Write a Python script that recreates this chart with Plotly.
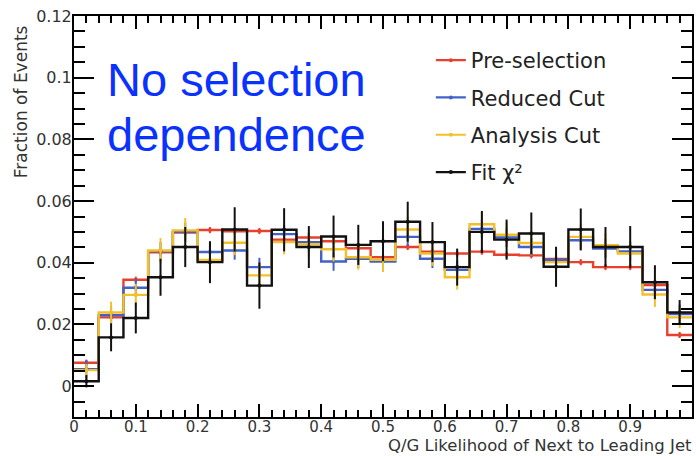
import numpy as np
import plotly.graph_objects as go

edges = [round(0.04 * i, 2) for i in range(26)]
centers = [round(0.02 + 0.04 * i, 2) for i in range(25)]

pre_sel = [0.0076, 0.0223, 0.0345, 0.0434, 0.0498, 0.0506, 0.0502, 0.0503, 0.0475, 0.0482,
           0.0470, 0.0447, 0.0418, 0.0451, 0.0436, 0.0430, 0.0436, 0.0426, 0.0424, 0.0412,
           0.0402, 0.0386, 0.0386, 0.0328, 0.0166]
reduced = [0.0055, 0.0230, 0.0319, 0.0437, 0.0500, 0.0435, 0.0440, 0.0386, 0.0493, 0.0467,
           0.0404, 0.0413, 0.0404, 0.0484, 0.0413, 0.0377, 0.0510, 0.0482, 0.0451, 0.0410,
           0.0473, 0.0446, 0.0437, 0.0312, 0.0234]
analysis = [0.0052, 0.0239, 0.0296, 0.0440, 0.0505, 0.0409, 0.0465, 0.0359, 0.0467, 0.0460,
            0.0444, 0.0418, 0.0410, 0.0508, 0.0430, 0.0353, 0.0525, 0.0491, 0.0464, 0.0402,
            0.0484, 0.0457, 0.0430, 0.0297, 0.0223]
fit_chi2 = [0.0016, 0.0158, 0.0221, 0.0353, 0.0451, 0.0402, 0.0508, 0.0326, 0.0507, 0.0451,
            0.0485, 0.0458, 0.0470, 0.0533, 0.0467, 0.0386, 0.0500, 0.0475, 0.0495, 0.0387,
            0.0508, 0.0451, 0.0451, 0.0337, 0.0239]

pre_err = [0.001] * 25
reduced_err = [0.003] * 25
analysis_err = [0.002, 0.0035, 0.0035, 0.004, 0.004, 0.004, 0.004, 0.004, 0.004, 0.004,
                0.004, 0.004, 0.004, 0.004, 0.004, 0.004, 0.004, 0.004, 0.004, 0.004,
                0.004, 0.004, 0.004, 0.004, 0.0035]
fit_err = [0.002, 0.0045, 0.005, 0.006, 0.0065, 0.0068, 0.0072, 0.0075, 0.007, 0.0068,
           0.0068, 0.0065, 0.0065, 0.0065, 0.0065, 0.006, 0.0068, 0.0065, 0.0068, 0.0065,
           0.0068, 0.0065, 0.0068, 0.0055, 0.004]

series = [
    ("Pre-selection", pre_sel, pre_err, "#e8402f"),
    ("Reduced Cut", reduced, reduced_err, "#4262c9"),
    ("Analysis Cut", analysis, analysis_err, "#f2c12a"),
    ("Fit \u03c7\u00b2", fit_chi2, fit_err, "#111111"),
]

fig = go.Figure()
for i, (name, vals, errs, col) in enumerate(series):
    fig.add_trace(go.Scatter(
        x=edges, y=list(vals) + [vals[-1]], mode="lines", line_shape="hv",
        line=dict(color=col, width=2.4), showlegend=False, hoverinfo="skip"))
for i, (name, vals, errs, col) in enumerate(series):
    xs, ys, es = [], [], []
    for c, v, e in zip(centers, vals, errs):
        xs += [c, None]
        ys += [v, None]
        es += [e, None]
    fig.add_trace(go.Scatter(
        x=xs, y=ys, mode="lines+markers", connectgaps=False, name=name,
        legendgroup=name,
        line=dict(color=col, width=2.2),
        marker=dict(color=col, size=4),
        error_y=dict(type="data", array=es, visible=True, color=col, thickness=2, width=0)))

axis_font = "DejaVu Sans"
axis_common = dict(showline=True, linecolor="black", linewidth=2, mirror="ticks",
                   ticks="inside", tickcolor="black", tickwidth=2, showgrid=False,
                   zeroline=False)

fig.update_xaxes(range=[0, 1], dtick=0.1, tick0=0, ticklen=13, ticklabelstandoff=-5,
                 tickfont=dict(family=axis_font, size=15, color="#333333"),
                 minor=dict(dtick=0.02, ticklen=7, ticks="inside", tickcolor="black",
                            tickwidth=2, showgrid=False),
                 **axis_common)
fig.update_yaxes(range=[-0.01, 0.12], dtick=0.02, tick0=0, ticklen=20, ticklabelstandoff=-3,
                 tickfont=dict(family=axis_font, size=16, color="#333333"),
                 minor=dict(dtick=0.005, ticklen=11, ticks="inside", tickcolor="black",
                            tickwidth=2, showgrid=False),
                 **axis_common)

blue_font = dict(family="Liberation Sans", size=47, color="#0a32ff")
fig.add_annotation(text="No selection", xref="paper", yref="paper",
                   x=(105 - 74) / 620, y=1 - (51 - 16) / 401, xanchor="left", yanchor="top",
                   align="left", showarrow=False, font=blue_font)
fig.add_annotation(text="dependence", xref="paper", yref="paper",
                   x=(105 - 74) / 620, y=1 - (106 - 16) / 401, xanchor="left", yanchor="top",
                   align="left", showarrow=False, font=blue_font)
fig.add_annotation(text="Q/G Likelihood of Next to Leading Jet", xref="paper", yref="paper",
                   x=(695 - 74) / 620, y=-(456 - 417) / 401, xanchor="right", yanchor="bottom",
                   showarrow=False, borderpad=0,
                   font=dict(family=axis_font, size=16.5, color="#333333"))
fig.add_annotation(text="Fraction of Events", xref="paper", yref="paper",
                   x=-(74 - 21) / 620, y=1 - (102 - 16) / 401, xanchor="center",
                   yanchor="middle", textangle=-90, showarrow=False,
                   font=dict(family=axis_font, size=17, color="#333333"))

fig.update_layout(
    width=696, height=456,
    margin=dict(l=74, r=2, t=16, b=39),
    plot_bgcolor="white", paper_bgcolor="white",
    legend=dict(x=(432 - 74) / 620, y=1 - (40 - 16) / 401, xanchor="left", yanchor="top",
                bgcolor="rgba(0,0,0,0)", tracegroupgap=7,
                font=dict(family=axis_font, size=21, color="#222222")),
)

fig.write_html("out.html")
